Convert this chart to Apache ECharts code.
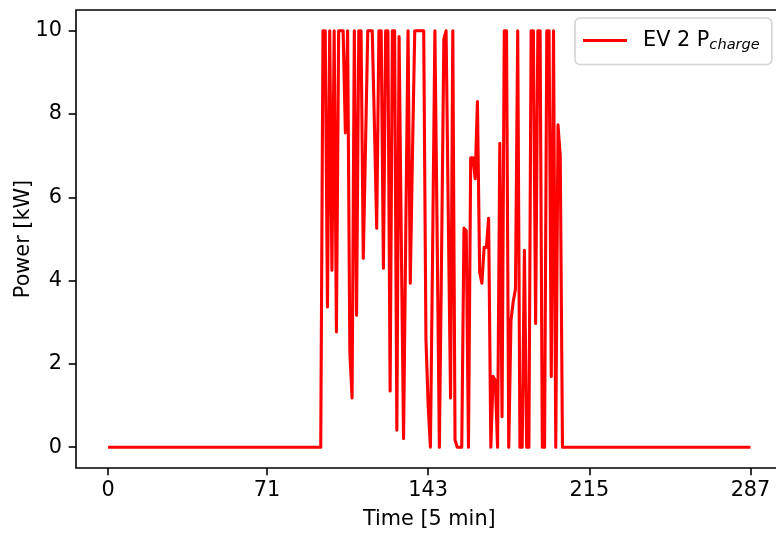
<!DOCTYPE html>
<html>
<head>
<meta charset="utf-8">
<script src="https://cdn.jsdelivr.net/npm/echarts@6/dist/echarts.min.js"></script>
<style>
html,body{margin:0;padding:0;background:#fff;}
#chart{width:776px;height:535px;}
</style>
</head>
<body>
<div id="chart"></div>
<script>
// EV 2 charging power per 5-minute step (index 0..287)
const powerBefore = [
  0,0,0,0,0,0,0,0,0,0, 0,0,0,0,0,0,0,0,0,0,
  0,0,0,0,0,0,0,0,0,0, 0,0,0,0,0,0,0,0,0,0,
  0,0,0,0,0,0,0,0,0,0, 0,0,0,0,0,0,0,0,0,0,
  0,0,0,0,0,0,0,0,0,0, 0,0,0,0,0,0,0,0,0,0,
  0,0,0,0,0,0,0,0,0,0, 0,0,0,0,0,0
];
const powerActive = [
  10, 10, 3.37, 10, 4.25, 10, 2.77, 10, 10, 10,
  7.55, 10, 2.3, 1.18, 10, 3.17, 10, 10, 4.54, 7.2,
  10, 10, 10, 7.7, 5.26, 10, 10, 4.3, 10, 10,
  1.35, 10, 10, 0.41, 9.86, 4.9, 0.21, 5.2, 10, 3.94,
  7.1, 10, 10, 10, 10, 10, 2.6, 1.0, 0, 4.8,
  10, 5.1, 0, 4.7, 9.8, 10, 5.5, 1.18, 10, 0.17,
  0, 0, 0, 5.26, 5.2, 0, 6.95, 6.95, 6.45, 8.3,
  4.2, 3.94, 4.8, 4.8, 5.5, 0, 1.7, 1.6, 0, 7.3,
  0.73, 10, 10, 0, 3.05, 3.5, 3.8, 10, 0, 0,
  4.73, 0, 0, 10, 10, 2.97, 10, 10, 0, 0,
  10, 10, 1.7, 10, 0, 7.74, 7.0
];
const powerAfter = [
  0,0,0,0,0,0,0,0,0,0, 0,0,0,0,0,0,0,0,0,0,
  0,0,0,0,0,0,0,0,0,0, 0,0,0,0,0,0,0,0,0,0,
  0,0,0,0,0,0,0,0,0,0, 0,0,0,0,0,0,0,0,0,0,
  0,0,0,0,0,0,0,0,0,0, 0,0,0,0,0,0,0,0,0,0,
  0,0,0,0,0
];
const xTicks = [0, 71, 143, 215, 287];
const yTicks = [0, 2, 4, 6, 8, 10];
const seriesName = 'EV 2 Pcharge';

const power = powerBefore.concat(powerActive, powerAfter);
const seriesData = power.map((v, i) => [i, v]);

const FONT = 'DejaVu Sans';
const chart = echarts.init(document.getElementById('chart'), null, {renderer: 'canvas'});
chart.setOption({
  animation: false,
  backgroundColor: '#ffffff',
  textStyle: {fontFamily: FONT, color: '#000'},
  grid: {
    left: 76, top: 10, width: 706.6, height: 458,
    show: true, borderColor: '#000', borderWidth: 1.6, backgroundColor: 'transparent',
    containLabel: false,
    outerBoundsMode: 'none'
  },
  legend: {
    left: 575, top: 18,
    padding: [12, 12, 12, 8],
    borderColor: '#d4d4d4', borderWidth: 1.6, borderRadius: 5,
    backgroundColor: 'rgba(255,255,255,0.8)',
    itemWidth: 44, itemHeight: 3,
    icon: 'rect',
    itemStyle: {color: '#ff0000'},
    formatter: () => '{a|EV 2 P}{b|charge}',
    textStyle: {
      fontFamily: FONT, color: '#000',
      rich: {
        a: {fontFamily: FONT, fontSize: 20.8, color: '#000', padding: [0, 0, 0, 11]},
        b: {fontFamily: FONT, fontSize: 14.6, fontStyle: 'italic', color: '#000', padding: [9, 0, 0, 0]}
      }
    },
    data: [seriesName]
  },
  xAxis: {
    type: 'value', min: -14.35, max: 301.35,
    name: 'Time [5 min]', nameLocation: 'middle', nameGap: 41,
    nameTextStyle: {fontFamily: FONT, fontSize: 20.8, color: '#000'},
    axisLine: {show: false, onZero: false},
    axisTick: {show: true, inside: false, length: 7.3, lineStyle: {color: '#000', width: 1.6}, customValues: xTicks},
    axisLabel: {fontFamily: FONT, fontSize: 20.8, color: '#000', margin: 12, customValues: xTicks},
    splitLine: {show: false}
  },
  yAxis: {
    type: 'value', min: -0.5, max: 10.5,
    name: 'Power [kW]', nameLocation: 'middle', nameGap: 42, nameRotate: 90,
    nameMoveOverlap: false,
    nameTextStyle: {fontFamily: FONT, fontSize: 20.8, color: '#000'},
    axisLine: {show: false, onZero: false},
    axisTick: {show: true, inside: false, length: 7.3, lineStyle: {color: '#000', width: 1.6}, customValues: yTicks},
    axisLabel: {fontFamily: FONT, fontSize: 20.8, color: '#000', margin: 14, customValues: yTicks},
    splitLine: {show: false}
  },
  series: [{
    name: seriesName,
    type: 'line',
    data: seriesData,
    showSymbol: false, symbol: 'none',
    lineStyle: {color: '#ff0000', width: 3.1, join: 'round'},
    itemStyle: {color: '#ff0000'},
    clip: true
  }]
});
</script>
</body>
</html>
